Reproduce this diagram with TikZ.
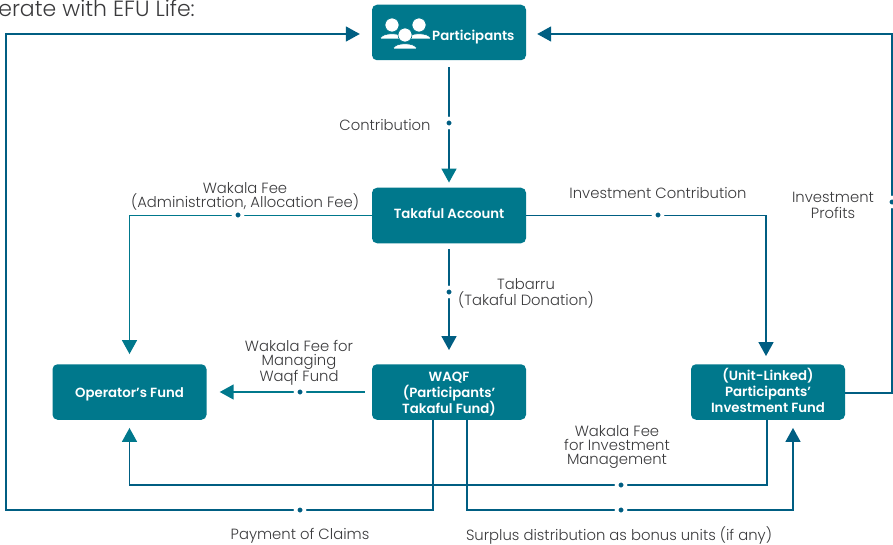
\documentclass[tikz,border=0pt]{standalone}
\usepackage{fontspec}
\setmainfont{Poppins}[UprightFont=* Light,BoldFont=* SemiBold]
\usetikzlibrary{arrows.meta,calc}
\definecolor{teal}{HTML}{00788C}
\definecolor{navy}{HTML}{005E82}
\definecolor{ink}{HTML}{3A3A3C}
\newcommand\pd{\rule{0pt}{14pt}}
\newcommand\pu{\rule[-4pt]{0pt}{4pt}}
\tikzset{
 box/.style={fill=teal,rounded corners=5pt,minimum width=154pt,minimum height=55.5pt,inner sep=0pt,text=white,align=center,font=\fontsize{13.3}{16}\selectfont\bfseries},
 conn/.style={line width=1.6pt,draw=#1},
 tipt/.style={-{Triangle[length=14pt,width=15pt,color=#1]}},
 lab/.style={text=ink,align=center,font=\fontsize{14.8}{14}\selectfont,inner sep=0pt},
 labw/.style={text=ink,align=center,font=\fontsize{14.8}{16}\selectfont,inner sep=0pt},
 dotn/.style={circle,fill=navy,draw=white,line width=3.5pt,minimum size=9pt,inner sep=0pt}
}
\begin{document}
\begin{tikzpicture}[x=1pt,y=-1pt]
\useasboundingbox (0,0) rectangle (893,545);
\node[box] (part) at (449,32.5) {};
\node[box] (tak) at (449,215.5) {Takaful Account\pu};
\node[box] (waqf) at (449,392) {\pd WAQF\\(Participants'\\Takaful Fund)};
\node[box] (opf) at (129.5,392) {\pd Operator's Fund};
\node[box] (unit) at (768,392) {(Unit-Linked)\\Participants'\\Investment Fund\pu};
\node[anchor=base west,text=white,font=\fontsize{13.3}{15}\selectfont\bfseries,inner sep=0pt] (ptext) at (432,41) {Participants};
% icon
\foreach \cx/\cy in {392/25,419/25,405/35}{
 \fill[white,draw=teal,line width=.6pt] (\cx-12,\cy+14) .. controls (\cx-11,\cy+7) and (\cx+11,\cy+7) .. (\cx+12,\cy+14) -- cycle;
 \fill[white,draw=teal,line width=.6pt] (\cx,\cy) circle (7);
}
\coordinate (d1) at (449,123);
\coordinate (d2) at (238,215);
\coordinate (d3) at (658,215);
\coordinate (d4) at (449,292);
\coordinate (d5) at (300,392);
\coordinate (d6) at (300,510);
\coordinate (d7) at (621,485);
\coordinate (d8) at (621,510);
\coordinate (d9) at (892,202);
\coordinate (wl) at ($(waqf.south)+(-16,0)$);
\coordinate (wr) at ($(waqf.south)+(18,0)$);
\coordinate (ua) at ($(unit.north)+(-2,0)$);
\coordinate (ub) at ($(unit.south)+(25,0)$);
\coordinate (uc) at ($(unit.south)+(-1,0)$);
\coordinate (ue) at ($(unit.east)+(0,1)$);
\coordinate (cl) at (6,34);
\coordinate (pl) at (part.west |- cl);
\coordinate (pr) at (part.east |- cl);
% connectors
\draw[conn=navy,tipt=teal,shorten <=7pt,shorten >=5pt] (part.south) -- (tak.north);
\draw[conn=teal,tipt=teal,shorten >=10pt] (tak.west) -| (opf.north);
\draw[conn=navy,tipt=navy,shorten >=8pt] (tak.east) -| (ua);
\draw[conn=navy,tipt=navy,shorten <=6pt,shorten >=14pt] (tak.south) -- (waqf.north);
\draw[conn=teal,tipt=teal,shorten <=7pt,shorten >=13pt] (waqf.west) -- (opf.east);
\draw[conn=navy,tipt=navy,shorten >=12pt] (wl) |- (d6) -| (cl) -- (pl);
\draw[conn=navy,tipt=navy,shorten >=8pt] (wr) |- (d8) -| (ub);
\draw[conn=navy,tipt=teal,shorten >=8pt] (uc) |- (d7) -| (opf.south);
\draw[conn=navy,tipt=navy,shorten >=11pt] (ue) -| (d9) |- (pr);
% dots
\foreach \d in {d1,d2,d3,d4,d5,d6,d7,d8,d9} \node[dotn] at (\d) {};
% labels
\node[lab] (l1) at (385,125) {Contribution};
\node[lab] (l2) at (245,196) {Wakala Fee\\(Administration, Allocation Fee)};
\node[lab] (l3) at (658,193) {Investment Contribution};
\node[labw] (l4) at (526,293.5) {Tabarru\\(Takaful Donation)};
\node[lab] (l5) at (299,363) {Wakala Fee for\\Managing\\Waqf Fund};
\node[labw] (l6) at (833,205) {Investment\\Profits};
\node[lab] (l7) at (617,447.5) {Wakala Fee\\for Investment\\Management};
\node[lab] (l8) at (300,535.5) {Payment of Claims};
\node[lab] (l9) at (619,535) {Surplus distribution as bonus units (if any)};
\node[text=ink,anchor=base east,inner sep=0pt,font=\fontsize{22}{22}\selectfont] (top) at (195,16.5) {erate with EFU Life:};
\end{tikzpicture}
\end{document}
